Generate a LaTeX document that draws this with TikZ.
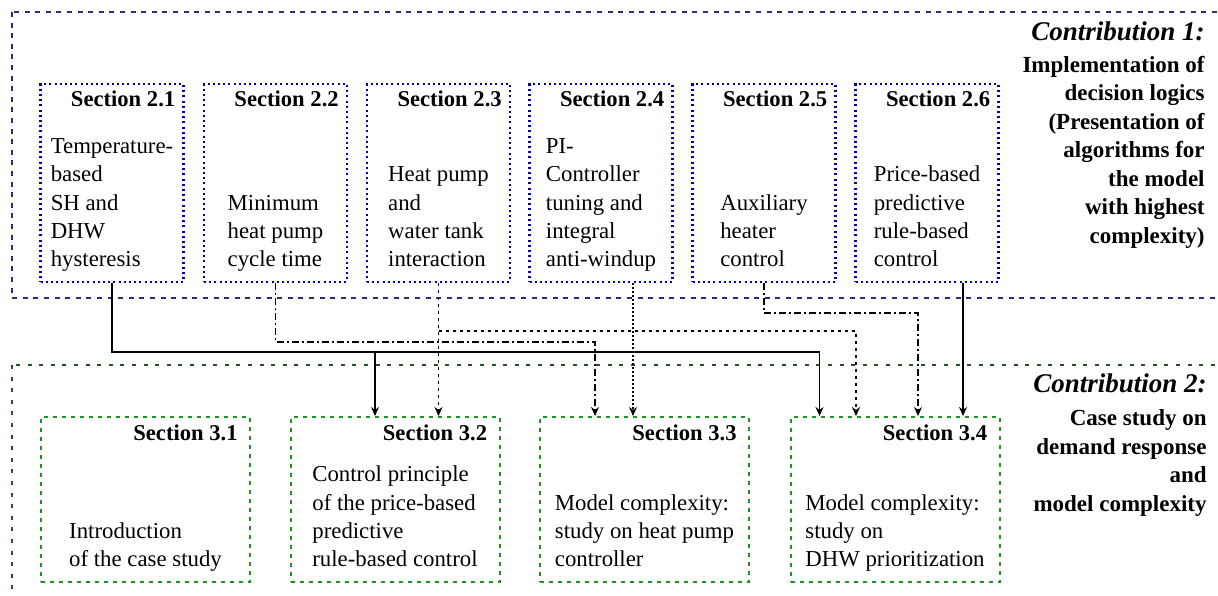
\documentclass[tikz,border=0pt]{standalone}
\usepackage{fontspec}
\setmainfont{Liberation Serif}
\usetikzlibrary{arrows.meta,calc}

\definecolor{frameblue}{RGB}{43,43,127}
\definecolor{boxblue}{RGB}{0,0,176}
\definecolor{framegreen}{RGB}{38,80,38}
\definecolor{boxgreen}{RGB}{26,150,26}

\newcommand{\bodyfont}{\fontsize{11.4}{14.15}\selectfont}
\newcommand{\headfont}{\fontsize{11.3}{14}\selectfont\bfseries}
\newcommand{\contribfont}{\fontsize{13.5}{16}\selectfont\bfseries\itshape}
\newcommand{\notefont}{\fontsize{11.5}{14.25}\selectfont\bfseries}

\begin{document}
\begin{tikzpicture}[x=0.5pt,y=-0.5pt,
    topbox/.style={draw=boxblue, line width=1.1pt, dash pattern=on 1pt off 1.6pt,
        minimum width=71.5pt, minimum height=99pt, inner sep=0pt},
    botbox/.style={draw=boxgreen, line width=1pt, dash pattern=on 2pt off 2.5pt,
        minimum width=104.5pt, minimum height=82.5pt, inner sep=0pt},
    head/.style={anchor=north east, inner sep=0pt, font=\headfont},
    body/.style={anchor=south, align=left, inner sep=0pt, font=\bodyfont, execute at end node=\strut},
    conn/.style={line width=0.8pt, -{Stealth[length=4.5pt,width=4pt]}},
    dotline/.style={dash pattern=on 1.5pt off 2pt},
    fineline/.style={dash pattern=on 1pt off 1pt},
    dashdotline/.style={dash pattern=on 3.5pt off 1.5pt on 1pt off 1.5pt}
    ]
    \useasboundingbox (0,0) rectangle (1218,595);
    \clip (0,0) rectangle (1218,595);

    % Frames
    \draw[frameblue, line width=1pt, dash pattern=on 2.5pt off 2.8pt] (12,12) rectangle (1240,298);
    \draw[framegreen, line width=1.1pt, dash pattern=on 2pt off 3.8pt] (12,365) rectangle (1240,620);

    % Contribution 1 boxes
    \node[topbox] (s21) at (112,183) {};
    \node[topbox] (s22) at (275.5,183) {};
    \node[topbox] (s23) at (438.5,183) {};
    \node[topbox] (s24) at (601,183) {};
    \node[topbox] (s25) at (764,183) {};
    \node[topbox] (s26) at (927,183) {};

    \node[head] (h21) at ([xshift=-4.5pt,yshift=-4pt]s21.north east) {Section 2.1};
    \node[head] (h22) at ([xshift=-4.5pt,yshift=-4pt]s22.north east) {Section 2.2};
    \node[head] (h23) at ([xshift=-4.5pt,yshift=-4pt]s23.north east) {Section 2.3};
    \node[head] (h24) at ([xshift=-4.5pt,yshift=-4pt]s24.north east) {Section 2.4};
    \node[head] (h25) at ([xshift=-4.5pt,yshift=-4pt]s25.north east) {Section 2.5};
    \node[head] (h26) at ([xshift=-4.5pt,yshift=-4pt]s26.north east) {Section 2.6};

    \node[body] (t21) at ([yshift=3.75pt]s21.south) {Temperature-\\based\\SH and\\DHW\\hysteresis};
    \node[body] (t22) at ([yshift=3.75pt]s22.south) {Minimum\\heat pump\\cycle time};
    \node[body] (t23) at ([yshift=3.75pt]s23.south) {Heat pump\\and\\water tank\\interaction};
    \node[body] (t24) at ([yshift=3.75pt]s24.south) {PI-\\Controller\\tuning and\\integral\\anti-windup};
    \node[body] (t25) at ([yshift=3.75pt]s25.south) {Auxiliary\\heater\\control};
    \node[body] (t26) at ([yshift=3.75pt]s26.south) {Price-based\\predictive\\rule-based\\control};

    % Contribution 2 boxes
    \node[botbox] (s31) at (145.5,499.5) {};
    \node[botbox] (s32) at (395,499.5) {};
    \node[botbox] (s33) at (644.5,499.5) {};
    \node[botbox] (s34) at (895,499.5) {};

    \node[head] (h31) at ([xshift=-6.5pt,yshift=-4pt]s31.north east) {Section 3.1};
    \node[head] (h32) at ([xshift=-6.5pt,yshift=-4pt]s32.north east) {Section 3.2};
    \node[head] (h33) at ([xshift=-6.5pt,yshift=-4pt]s33.north east) {Section 3.3};
    \node[head] (h34) at ([xshift=-6.5pt,yshift=-4pt]s34.north east) {Section 3.4};

    \node[body] (t31) at ([yshift=3.75pt]s31.south) {Introduction\\of the case study};
    \node[body] (t32) at ([yshift=3.75pt]s32.south) {Control principle\\of the price-based\\predictive\\rule-based control};
    \node[body] (t33) at ([yshift=3.75pt]s33.south) {Model complexity:\\study on heat pump\\controller};
    \node[body] (t34) at ([yshift=3.75pt]s34.south) {Model complexity:\\study on\\DHW prioritization};

    % Contribution texts
    \node[anchor=base east, inner sep=0pt, font=\contribfont] (c1) at (1205,40) {Contribution 1:};
    \node[anchor=north east, align=right, inner sep=0pt, font=\notefont] (n1) at (1205,55.5)
        {Implementation of\\decision logics\\(Presentation of\\algorithms for\\the model\\with highest\\complexity)};
    \node[anchor=base east, inner sep=0pt, font=\contribfont] (c2) at (1207,392) {Contribution 2:};
    \node[anchor=north east, align=right, inner sep=0pt, font=\notefont] (n2) at (1207,409.5)
        {Case study on\\demand response\\and\\model complexity};

    % Bus levels and entry points
    \coordinate (busA) at (0,352);
    \coordinate (busB) at (0,342);
    \coordinate (busC) at (0,331);
    \coordinate (busE) at (0,313);
    \coordinate (in32a) at ($(s32.north west)+(85.5,0)$);
    \coordinate (in32b) at (s23.south |- s32.north);
    \coordinate (in33a) at ($(s33.north west)+(56,0)$);
    \coordinate (in33b) at ($(s33.north west)+(94,0)$);
    \coordinate (in34a) at ($(s34.north west)+(30,0)$);
    \coordinate (in34b) at ($(s34.north west)+(66.5,0)$);
    \coordinate (in34c) at ($(s34.north west)+(128.5,0)$);
    \coordinate (in34d) at ($(s34.north west)+(173.5,0)$);

    % Arrows
    \draw[conn] (s21.south) |- (in34a |- busA) -- (in34a);
    \draw[conn] (in32a |- busA) -- (in32a);
    \draw[conn,dashdotline] (s22.south) |- (in33a |- busB) -- (in33a);
    \draw[conn,dotline] (s23.south) -- (in32b);
    \draw[conn,dotline] (s23.south |- busC) -| (in34b);
    \draw[conn,fineline] (in33b |- s24.south) -- (in33b);
    \draw[conn,dashdotline] (s25.south) |- (in34c |- busE) -- (in34c);
    \draw[conn] (in34d |- s26.south) -- (in34d);
\end{tikzpicture}
\end{document}
